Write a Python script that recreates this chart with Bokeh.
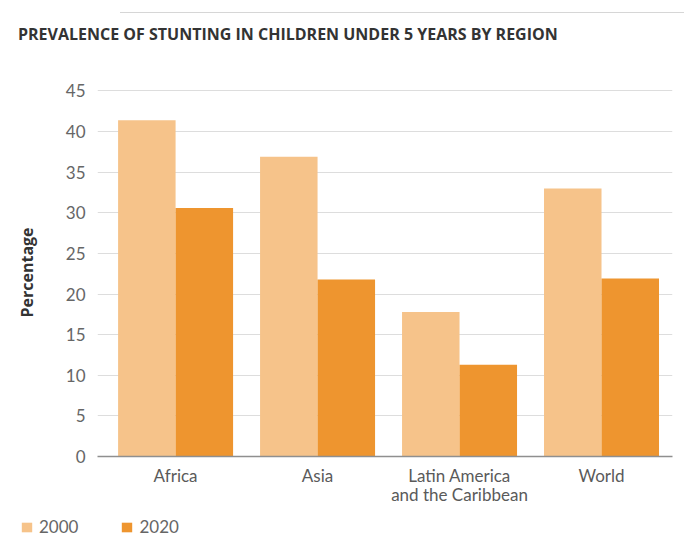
from bokeh.plotting import figure
from bokeh.layouts import column, row
from bokeh.models import ColumnDataSource, FixedTicker, Legend, LegendItem, Range1d, Div
from bokeh.transform import dodge
from bokeh.embed import file_html
from bokeh.resources import INLINE

regions = ["Africa", "Asia", "Latin America\nand the Caribbean", "World"]
years = ["2000", "2020"]
values_2000 = [41.4, 36.9, 17.8, 33.0]
values_2020 = [30.6, 21.8, 11.3, 21.9]
y_ticks = [0, 5, 10, 15, 20, 25, 30, 35, 40, 45]
title_text = "PREVALENCE OF STUNTING IN CHILDREN UNDER 5 YEARS BY REGION"
y_label = "Percentage"

color_2000 = "#F6C38A"
color_2020 = "#EE952F"

xs = list(range(len(regions)))
src = ColumnDataSource(dict(x=xs, v2000=values_2000, v2020=values_2020))

title_div = Div(
    text=('<div style="margin-left:120px; width:564px; height:13px; border-bottom:1px solid #d6d6d6;"></div>'
          '<div style="padding:11px 0 0 18px; font-family:\'Open Sans\'; font-weight:bold; '
          'font-size:16px; line-height:20px; color:#333333; white-space:nowrap;">'
          + title_text + '</div>'),
    width=684, height=46, margin=(0, 0, 0, 0))

p = figure(width=684, height=462, output_backend="svg", toolbar_location=None,
           x_range=Range1d(-0.55, len(regions) - 0.5), y_range=Range1d(0, 45.3),
           min_border_left=97, min_border_right=12, min_border_top=42, min_border_bottom=52)
p.outline_line_color = None
p.background_fill_color = "white"
p.border_fill_color = "white"

bw = 0.405
p.vbar(x=dodge("x", -bw / 2, range=p.x_range), top="v2000", width=bw, source=src,
       fill_color=color_2000, line_color=None)
p.vbar(x=dodge("x", bw / 2, range=p.x_range), top="v2020", width=bw, source=src,
       fill_color=color_2020, line_color=None)

# axes
p.xaxis.ticker = FixedTicker(ticks=xs)
p.xaxis.major_label_overrides = {i: r for i, r in enumerate(regions)}
p.xaxis.axis_line_color = "#8f8f8f"
p.xaxis.axis_line_width = 1.5
p.xaxis.major_tick_line_color = None
p.xaxis.minor_tick_line_color = None
p.xaxis.major_label_text_font = "Lato"
p.xaxis.major_label_text_font_size = "17px"
p.xaxis.major_label_text_color = "#5a5a5a"
p.xaxis.major_label_text_line_height = 0.95
p.xaxis.major_label_standoff = 2

p.yaxis.ticker = FixedTicker(ticks=y_ticks)
p.yaxis.axis_line_color = None
p.yaxis.major_tick_line_color = None
p.yaxis.minor_tick_line_color = None
p.yaxis.major_label_text_font = "Lato"
p.yaxis.major_label_text_font_size = "17px"
p.yaxis.major_label_text_color = "#666666"
p.yaxis.major_label_standoff = 6
p.yaxis.axis_label = y_label
p.yaxis.axis_label_text_font = "Open Sans"
p.yaxis.axis_label_text_font_style = "bold"
p.yaxis.axis_label_text_font_size = "16px"
p.yaxis.axis_label_text_color = "#333333"
p.yaxis.axis_label_standoff = 25

p.xgrid.grid_line_color = None
p.ygrid.grid_line_color = "#dddddd"
p.ygrid.grid_line_width = 1

# legend strip below the chart (its renderers are hidden; only the legend shows)
q = figure(width=684, height=28, output_backend="svg", toolbar_location=None,
           x_range=Range1d(0, 1), y_range=Range1d(0, 1),
           min_border_left=0, min_border_right=0, min_border_top=0, min_border_bottom=0)
q.axis.visible = False
q.grid.visible = False
q.outline_line_color = None
q.border_fill_color = "white"
q.background_fill_color = "white"
l1 = q.vbar(x="x", top="v2000", width=0.1, source=src, fill_color=color_2000, line_color=None)
l2 = q.vbar(x="x", top="v2020", width=0.1, source=src, fill_color=color_2020, line_color=None)
l1.visible = False
l2.visible = False

legend = Legend(items=[LegendItem(label=years[0], renderers=[l1]),
                       LegendItem(label=years[1], renderers=[l2])],
                orientation="horizontal", location=(20, -1),
                glyph_width=13, glyph_height=12, label_text_font="Lato",
                label_text_font_size="17px", label_text_color="#666666",
                border_line_color=None, background_fill_alpha=0,
                inactive_fill_alpha=0,
                padding=0, margin=0, spacing=42, label_standoff=6)
q.add_layout(legend, "center")

layout = column(title_div, p, row(q), spacing=0)
open("out.html", "w").write(file_html(layout, INLINE))
